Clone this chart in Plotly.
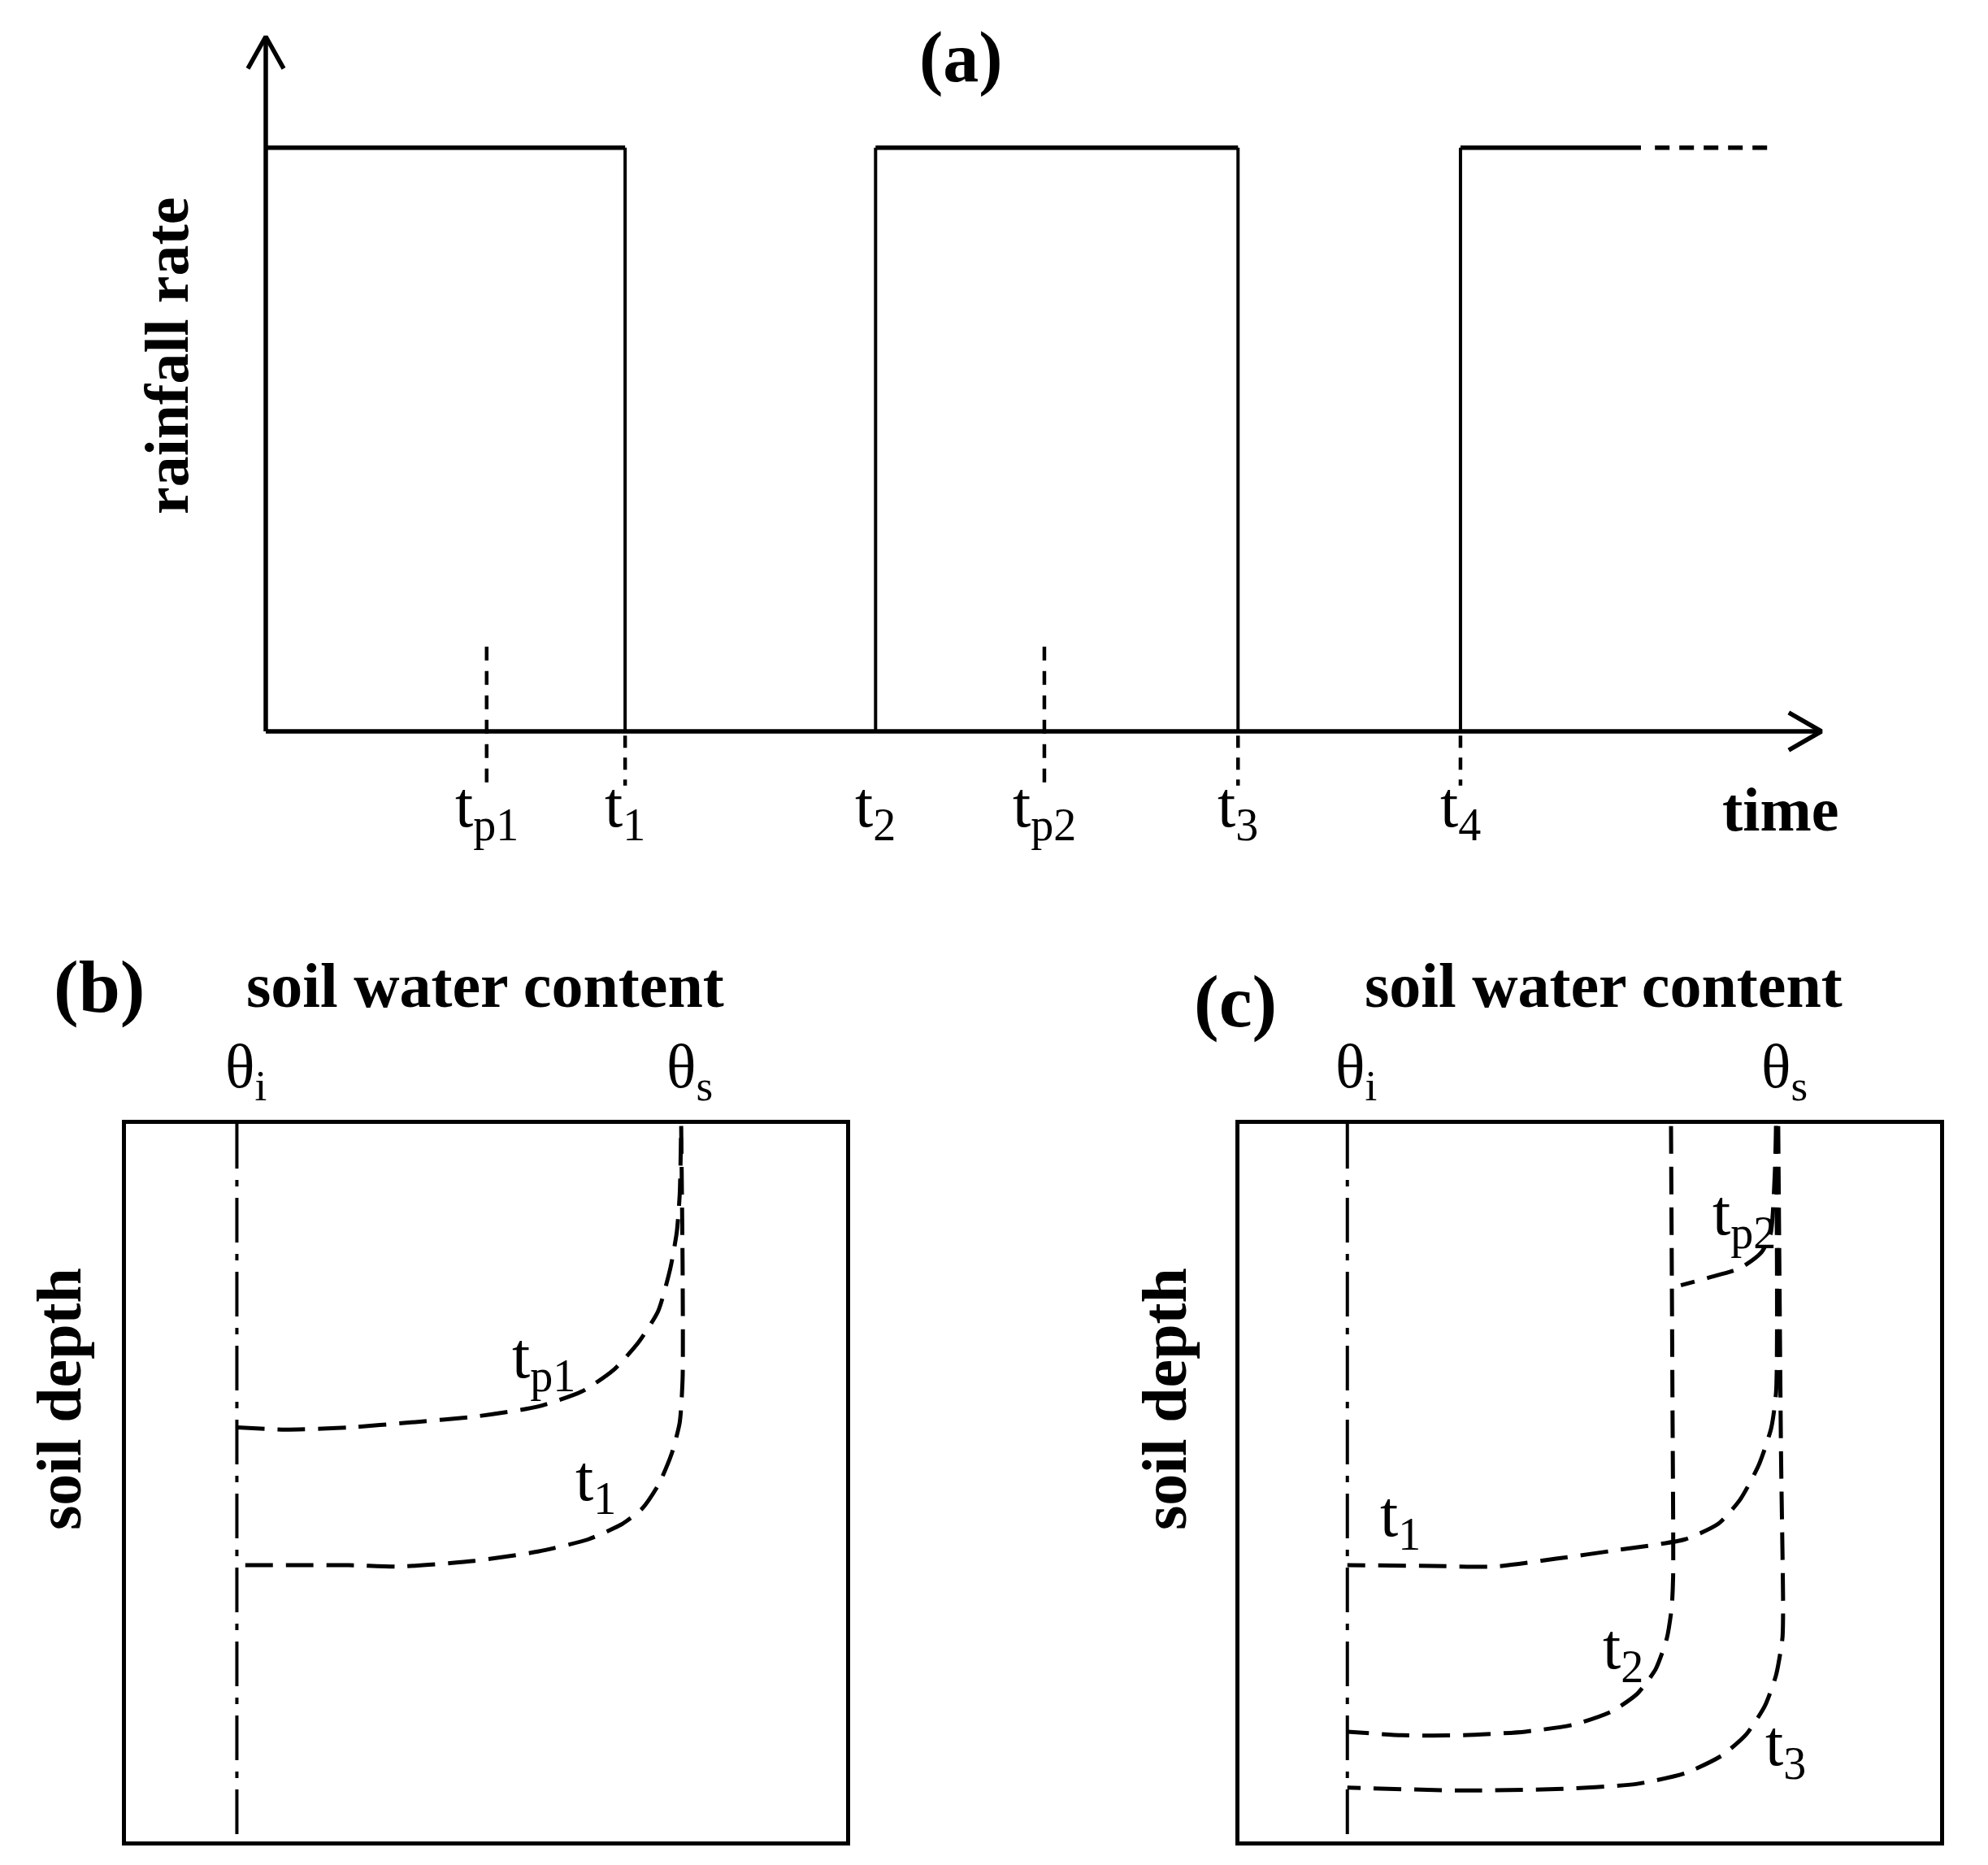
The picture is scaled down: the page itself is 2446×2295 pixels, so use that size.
import plotly.graph_objects as go

# ---------------- data ----------------
# panel (a): rainfall pattern (arbitrary time / rate units)
event_labels = ["t<sub>p1</sub>", "t<sub>1</sub>", "t<sub>2</sub>", "t<sub>p2</sub>", "t<sub>3</sub>", "t<sub>4</sub>"]
event_times = [14.2, 23.1, 39.2, 50.05, 62.5, 76.8]
rain_start = [0.0, 39.2, 76.8]
rain_end = [23.1, 62.5, 88.4]
rain_rate = 84.0
rain_continue_end = 96.7
ponding_times = [14.2, 50.05]
ponding_guide_top = 12.2
end_times = [23.1, 62.5, 76.8]
guide_bottom = -7.8

# panel (b): soil water content profiles (normalised content, normalised depth)
theta_i = 0.154
theta_s_b = 0.771
b_tp1_x = [0.154, 0.221, 0.309, 0.396, 0.484, 0.572, 0.633, 0.677, 0.712, 0.739, 0.756, 0.765, 0.769, 0.771]
b_tp1_y = [0.423, 0.426, 0.423, 0.416, 0.408, 0.394, 0.373, 0.343, 0.304, 0.261, 0.201, 0.150, 0.098, 0.003]
b_t1_x = [0.771, 0.773, 0.773, 0.769, 0.758, 0.740, 0.717, 0.690, 0.642, 0.572, 0.484, 0.379, 0.309, 0.154]
b_t1_y = [0.003, 0.201, 0.355, 0.416, 0.459, 0.502, 0.536, 0.557, 0.579, 0.596, 0.609, 0.617, 0.615, 0.615]

# panel (c)
theta_s_c = 0.766
c_tp2_x = [0.766, 0.764, 0.758, 0.745, 0.715, 0.671, 0.630]
c_tp2_y = [0.003, 0.072, 0.154, 0.179, 0.201, 0.214, 0.225]
c_t1_x = [0.766, 0.766, 0.759, 0.741, 0.715, 0.684, 0.636, 0.539, 0.452, 0.364, 0.276, 0.154]
c_t1_y = [0.003, 0.373, 0.424, 0.476, 0.523, 0.557, 0.579, 0.594, 0.606, 0.617, 0.616, 0.615]
c_t2_x = [0.616, 0.618, 0.619, 0.617, 0.610, 0.594, 0.568, 0.531, 0.478, 0.408, 0.320, 0.232, 0.154]
c_t2_y = [0.003, 0.373, 0.631, 0.674, 0.717, 0.760, 0.794, 0.819, 0.837, 0.847, 0.852, 0.852, 0.847]
c_t3_x = [0.769, 0.773, 0.776, 0.775, 0.766, 0.750, 0.724, 0.689, 0.636, 0.566, 0.452, 0.320, 0.154]
c_t3_y = [0.003, 0.459, 0.674, 0.717, 0.768, 0.811, 0.850, 0.880, 0.905, 0.920, 0.927, 0.929, 0.925]

b_labels = ["t<sub>p1</sub>", "t<sub>1</sub>"]
b_label_x = [0.58, 0.652]
b_label_y = [0.33, 0.50]
c_labels = ["t<sub>p2</sub>", "t<sub>1</sub>", "t<sub>2</sub>", "t<sub>3</sub>"]
c_label_x = [0.72, 0.23, 0.547, 0.78]
c_label_y = [0.13, 0.55, 0.735, 0.87]

# ---------------- layout helpers ----------------
W, H, OFF = 2430, 2279, 8
def fx(X):
    return (X - OFF) / W
def fy(Y):
    return 1 - (Y - OFF) / H

FONT = "Liberation Serif"
BLACK = "black"

# panel (a) pixel mapping: time 0 -> 327px, time 100 -> 2241px ; rate 0 -> 900px, 100 -> 45px
ax_x0, ax_x100 = 327, 2241
ax_y0, ax_y100 = 900, 45
xr_a = [-15, 102]
yr_a = [-20, 102]
sx = (ax_x100 - ax_x0) / 100
sy = (ax_y0 - ax_y100) / 100
a_left = ax_x0 + xr_a[0] * sx
a_right = ax_x0 + xr_a[1] * sx
a_top = ax_y0 - yr_a[1] * sy
a_bottom = ax_y0 - yr_a[0] * sy

fig = go.Figure()

def seg_lines(xs_pairs, ys_pairs):
    X, Y = [], []
    for xp, yp in zip(xs_pairs, ys_pairs):
        X += list(xp) + [None]
        Y += list(yp) + [None]
    return X, Y

# axes with open arrowheads
AXW = 5.5
hx, hy = 2.1, 2.7     # x-arrow head size (data units)
vx, vy = 1.15, 4.6    # y-arrow head size
X, Y = seg_lines(
    [(0, 100), (100 - hx, 100, 100 - hx), (0, 0), (-vx, 0, vx)],
    [(0, 0), (hy, 0, -hy), (0, 100), (100 - vy, 100, 100 - vy)],
)
fig.add_trace(go.Scatter(x=X, y=Y, mode="lines", line=dict(color=BLACK, width=AXW),
                         xaxis="x", yaxis="y", hoverinfo="skip"))

# rainfall pulses: horizontals
X, Y = seg_lines([(s, e) for s, e in zip(rain_start, rain_end)],
                 [(rain_rate, rain_rate) for _ in rain_start])
fig.add_trace(go.Scatter(x=X, y=Y, mode="lines", line=dict(color=BLACK, width=5.5),
                         xaxis="x", yaxis="y", hoverinfo="skip"))
# verticals
verts = rain_start[1:] + rain_end[:2]
X, Y = seg_lines([(v, v) for v in verts], [(0, rain_rate) for _ in verts])
fig.add_trace(go.Scatter(x=X, y=Y, mode="lines", line=dict(color=BLACK, width=4),
                         xaxis="x", yaxis="y", hoverinfo="skip"))
# dashed continuation
fig.add_trace(go.Scatter(x=[rain_end[-1] + 0.9, rain_continue_end], y=[rain_rate, rain_rate], mode="lines",
                         line=dict(color=BLACK, width=5.5, dash="18px,12px"),
                         xaxis="x", yaxis="y", hoverinfo="skip"))
# guide lines
X, Y = seg_lines([(t, t) for t in ponding_times], [(ponding_guide_top, guide_bottom) for _ in ponding_times])
fig.add_trace(go.Scatter(x=X, y=Y, mode="lines", line=dict(color=BLACK, width=4.5, dash="17px,13px"),
                         xaxis="x", yaxis="y", hoverinfo="skip"))
X, Y = seg_lines([(t, t) for t in end_times], [(-0.6, guide_bottom) for _ in end_times])
fig.add_trace(go.Scatter(x=X, y=Y, mode="lines", line=dict(color=BLACK, width=4.5, dash="15px,12px"),
                         xaxis="x", yaxis="y", hoverinfo="skip"))

annotations = []
LABEL_Y = -5.2
for lab, t in zip(event_labels, event_times):
    annotations.append(dict(x=t, y=LABEL_Y, xref="x", yref="y", text=lab, showarrow=False,
                            xanchor="center", yanchor="top", font=dict(family=FONT, size=80, color=BLACK)))

def bold(size):
    return dict(family=FONT, size=size, color=BLACK, weight="bold")

annotations += [
    dict(x=fx(2190), y=fy(996), xref="paper", yref="paper", text="time", showarrow=False,
         xanchor="center", yanchor="middle", font=bold(76)),
    dict(x=fx(1182), y=fy(70), xref="paper", yref="paper", text="(a)", showarrow=False,
         xanchor="center", yanchor="middle", font=bold(88)),
    dict(x=fx(205), y=fy(438), xref="paper", yref="paper", text="rainfall rate", showarrow=False,
         xanchor="center", yanchor="middle", textangle=-90, font=bold(76)),
]

# ---------------- panels (b) and (c) ----------------
box_top, box_bottom = 1383, 2266
b_l, b_r = 155, 1041
c_l, c_r = 1525, 2387

DASH = "34px,16px"
DASHDOT = "55px,14px,8px,14px"

def add_profile(xs, ys, xa, ya):
    fig.add_trace(go.Scatter(x=xs, y=ys, mode="lines", xaxis=xa, yaxis=ya, hoverinfo="skip",
                             line=dict(color=BLACK, width=5, dash=DASH, shape="spline", smoothing=0.6)))

for xa, ya in [("x2", "y2"), ("x3", "y3")]:
    fig.add_trace(go.Scatter(x=[theta_i, theta_i], y=[0, 1], mode="lines", xaxis=xa, yaxis=ya,
                             hoverinfo="skip", line=dict(color=BLACK, width=4, dash=DASHDOT)))

add_profile(b_tp1_x, b_tp1_y, "x2", "y2")
add_profile(b_t1_x, b_t1_y, "x2", "y2")
add_profile(c_tp2_x, c_tp2_y, "x3", "y3")
add_profile(c_t1_x, c_t1_y, "x3", "y3")
add_profile(c_t2_x, c_t2_y, "x3", "y3")
add_profile(c_t3_x, c_t3_y, "x3", "y3")

REG = dict(family=FONT, size=80, color=BLACK)
for lab, x, y in zip(b_labels, b_label_x, b_label_y):
    annotations.append(dict(x=x, y=y, xref="x2", yref="y2", text=lab, showarrow=False,
                            xanchor="center", yanchor="middle", font=REG))
for lab, x, y in zip(c_labels, c_label_x, c_label_y):
    annotations.append(dict(x=x, y=y, xref="x3", yref="y3", text=lab, showarrow=False,
                            xanchor="center", yanchor="middle", font=REG))

theta_font = dict(family=FONT, size=76, color=BLACK)
for xa, ts, cx_title, lab, lab_x, lab_y in [("x2", theta_s_b, 597, "(b)", 122, 1214),
                                              ("x3", theta_s_c, 1973, "(c)", 1520, 1232)]:
    annotations.append(dict(x=theta_i + 0.012, y=fy(1318), xref=xa, yref="paper", text="θ<sub>i</sub>",
                            showarrow=False, xanchor="center", yanchor="middle", font=theta_font))
    annotations.append(dict(x=ts + 0.012, y=fy(1318), xref=xa, yref="paper", text="θ<sub>s</sub>",
                            showarrow=False, xanchor="center", yanchor="middle", font=theta_font))
    annotations.append(dict(x=fx(cx_title), y=fy(1212), xref="paper", yref="paper", text="soil water content",
                            showarrow=False, xanchor="center", yanchor="middle", font=bold(78)))
    annotations.append(dict(x=fx(lab_x), y=fy(lab_y), xref="paper", yref="paper", text=lab,
                            showarrow=False, xanchor="center", yanchor="middle", font=bold(92)))

for cx in [72, 1432]:
    annotations.append(dict(x=fx(cx), y=fy(1722), xref="paper", yref="paper", text="soil depth",
                            showarrow=False, xanchor="center", yanchor="middle", textangle=-90, font=bold(78)))

hidden = dict(showgrid=False, zeroline=False, showticklabels=False, ticks="", showline=False)
boxax = dict(showgrid=False, zeroline=False, showticklabels=False, ticks="", showline=True,
             mirror=True, linecolor=BLACK, linewidth=5)

fig.update_layout(
    width=W, height=H, margin=dict(l=0, r=0, t=0, b=0),
    paper_bgcolor="white", plot_bgcolor="white", showlegend=False,
    xaxis=dict(domain=[fx(a_left), fx(a_right)], range=xr_a, **hidden),
    yaxis=dict(domain=[fy(a_bottom), fy(a_top)], range=yr_a, **hidden),
    xaxis2=dict(domain=[fx(b_l), fx(b_r)], range=[0, 1], anchor="y2", **boxax),
    yaxis2=dict(domain=[fy(box_bottom), fy(box_top)], range=[1, 0], anchor="x2", **boxax),
    xaxis3=dict(domain=[fx(c_l), fx(c_r)], range=[0, 1], anchor="y3", **boxax),
    yaxis3=dict(domain=[fy(box_bottom), fy(box_top)], range=[1, 0], anchor="x3", **boxax),
    annotations=annotations,
)

fig.write_html("out.html")
